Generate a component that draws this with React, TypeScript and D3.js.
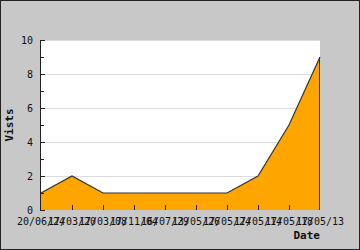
import React, { useEffect, useRef } from "react";
import * as d3 from "d3";

const categories = [
  "20/06/24",
  "17/03/20",
  "17/03/08",
  "17/11/04",
  "16/07/29",
  "13/05/26",
  "17/05/24",
  "17/05/14",
  "17/05/18",
  "17/05/13",
];
const visits = [1, 2, 1, 1, 1, 1, 1, 2, 5, 9];
const yMajorTicks = [0, 2, 4, 6, 8, 10];
const yMinorTicks = [1, 3, 5, 7, 9];

const W = 360;
const H = 250;
const FONT = "'DejaVu Sans Mono', monospace";

export default function App() {
  const ref = useRef<SVGSVGElement | null>(null);

  useEffect(() => {
    document.body.style.margin = "0";
    const svg = d3.select(ref.current);
    svg.selectAll("*").remove();

    const left = 41, right = 320, top = 40, bottom = 210;
    const x = d3.scalePoint<string>().domain(categories).range([left, right]);
    const y = d3.scaleLinear().domain([0, 10]).range([bottom, top]);

    svg.append("rect").attr("x", 0.5).attr("y", 0.5).attr("width", W - 1).attr("height", H - 1)
      .attr("fill", "#c8c8c8").attr("stroke", "#222").attr("stroke-width", 1);

    svg.append("rect").attr("x", left).attr("y", top).attr("width", right - left).attr("height", bottom - top)
      .attr("fill", "#ffffff");

    // gridlines
    svg.append("g").selectAll("line").data(yMajorTicks.filter((d) => d > 0)).join("line")
      .attr("x1", left).attr("x2", right)
      .attr("y1", (d) => Math.round(y(d)) + 0.5).attr("y2", (d) => Math.round(y(d)) + 0.5)
      .attr("stroke", "#dcdcdc").attr("stroke-width", 1);

    const pts: [number, number][] = visits.map((v, i) => [x(categories[i]) as number, y(v)]);

    const area = d3.area<[number, number]>().x((d) => d[0]).y0(y(0)).y1((d) => d[1]);
    svg.append("path").attr("d", area(pts) as string).attr("fill", "#ffa500");

    const line = d3.line<[number, number]>().x((d) => d[0]).y((d) => d[1]);
    svg.append("path").attr("d", line(pts) as string).attr("fill", "none")
      .attr("stroke", "#333").attr("stroke-width", 1.2);
    const last = pts[pts.length - 1];
    svg.append("line").attr("x1", last[0] - 0.5).attr("x2", last[0] - 0.5)
      .attr("y1", y(0)).attr("y2", last[1]).attr("stroke", "#333").attr("stroke-width", 1);

    // x ticks (inside, upward)
    svg.append("g").selectAll("line").data(categories.slice(1, -1)).join("line")
      .attr("x1", (d) => Math.round(x(d) as number) + 0.5).attr("x2", (d) => Math.round(x(d) as number) + 0.5)
      .attr("y1", bottom).attr("y2", bottom - 5)
      .attr("stroke", "#222").attr("stroke-width", 1);

    // y axis line
    svg.append("line").attr("x1", left - 0.5).attr("x2", left - 0.5).attr("y1", top).attr("y2", bottom)
      .attr("stroke", "#222").attr("stroke-width", 1);
    svg.append("g").selectAll("line").data(yMajorTicks).join("line")
      .attr("x1", left - 1).attr("x2", left + 4)
      .attr("y1", (d) => Math.round(y(d)) + 0.5).attr("y2", (d) => Math.round(y(d)) + 0.5)
      .attr("stroke", "#222").attr("stroke-width", 1);
    svg.append("g").selectAll("line").data(yMinorTicks).join("line")
      .attr("x1", left - 1).attr("x2", left + 3)
      .attr("y1", (d) => Math.round(y(d)) + 0.5).attr("y2", (d) => Math.round(y(d)) + 0.5)
      .attr("stroke", "#222").attr("stroke-width", 1);

    // y labels
    svg.append("g").selectAll("text").data(yMajorTicks).join("text")
      .attr("x", 33).attr("y", (d) => y(d) + 4)
      .attr("text-anchor", "end").attr("font-family", FONT).attr("font-size", 10).attr("fill", "#111")
      .text((d) => String(d));

    // x labels
    svg.append("g").selectAll("text").data(categories).join("text")
      .attr("x", (d) => x(d) as number).attr("y", 225)
      .attr("text-anchor", "middle").attr("font-family", FONT).attr("font-size", 10).attr("fill", "#111")
      .text((d) => d);

    // axis titles
    svg.append("text").attr("x", right).attr("y", 239).attr("text-anchor", "end")
      .attr("font-family", FONT).attr("font-size", 11).attr("font-weight", "bold").attr("fill", "#111")
      .text("Date");
    svg.append("text").attr("transform", `translate(13,${(top + bottom) / 2}) rotate(-90)`)
      .attr("text-anchor", "middle")
      .attr("font-family", FONT).attr("font-size", 11).attr("font-weight", "bold").attr("fill", "#111")
      .text("Vists");
  }, []);

  return (
    <svg ref={ref} width={W} height={H} style={{ display: "block", position: "absolute", left: 0, top: 0 }} />
  );
}
